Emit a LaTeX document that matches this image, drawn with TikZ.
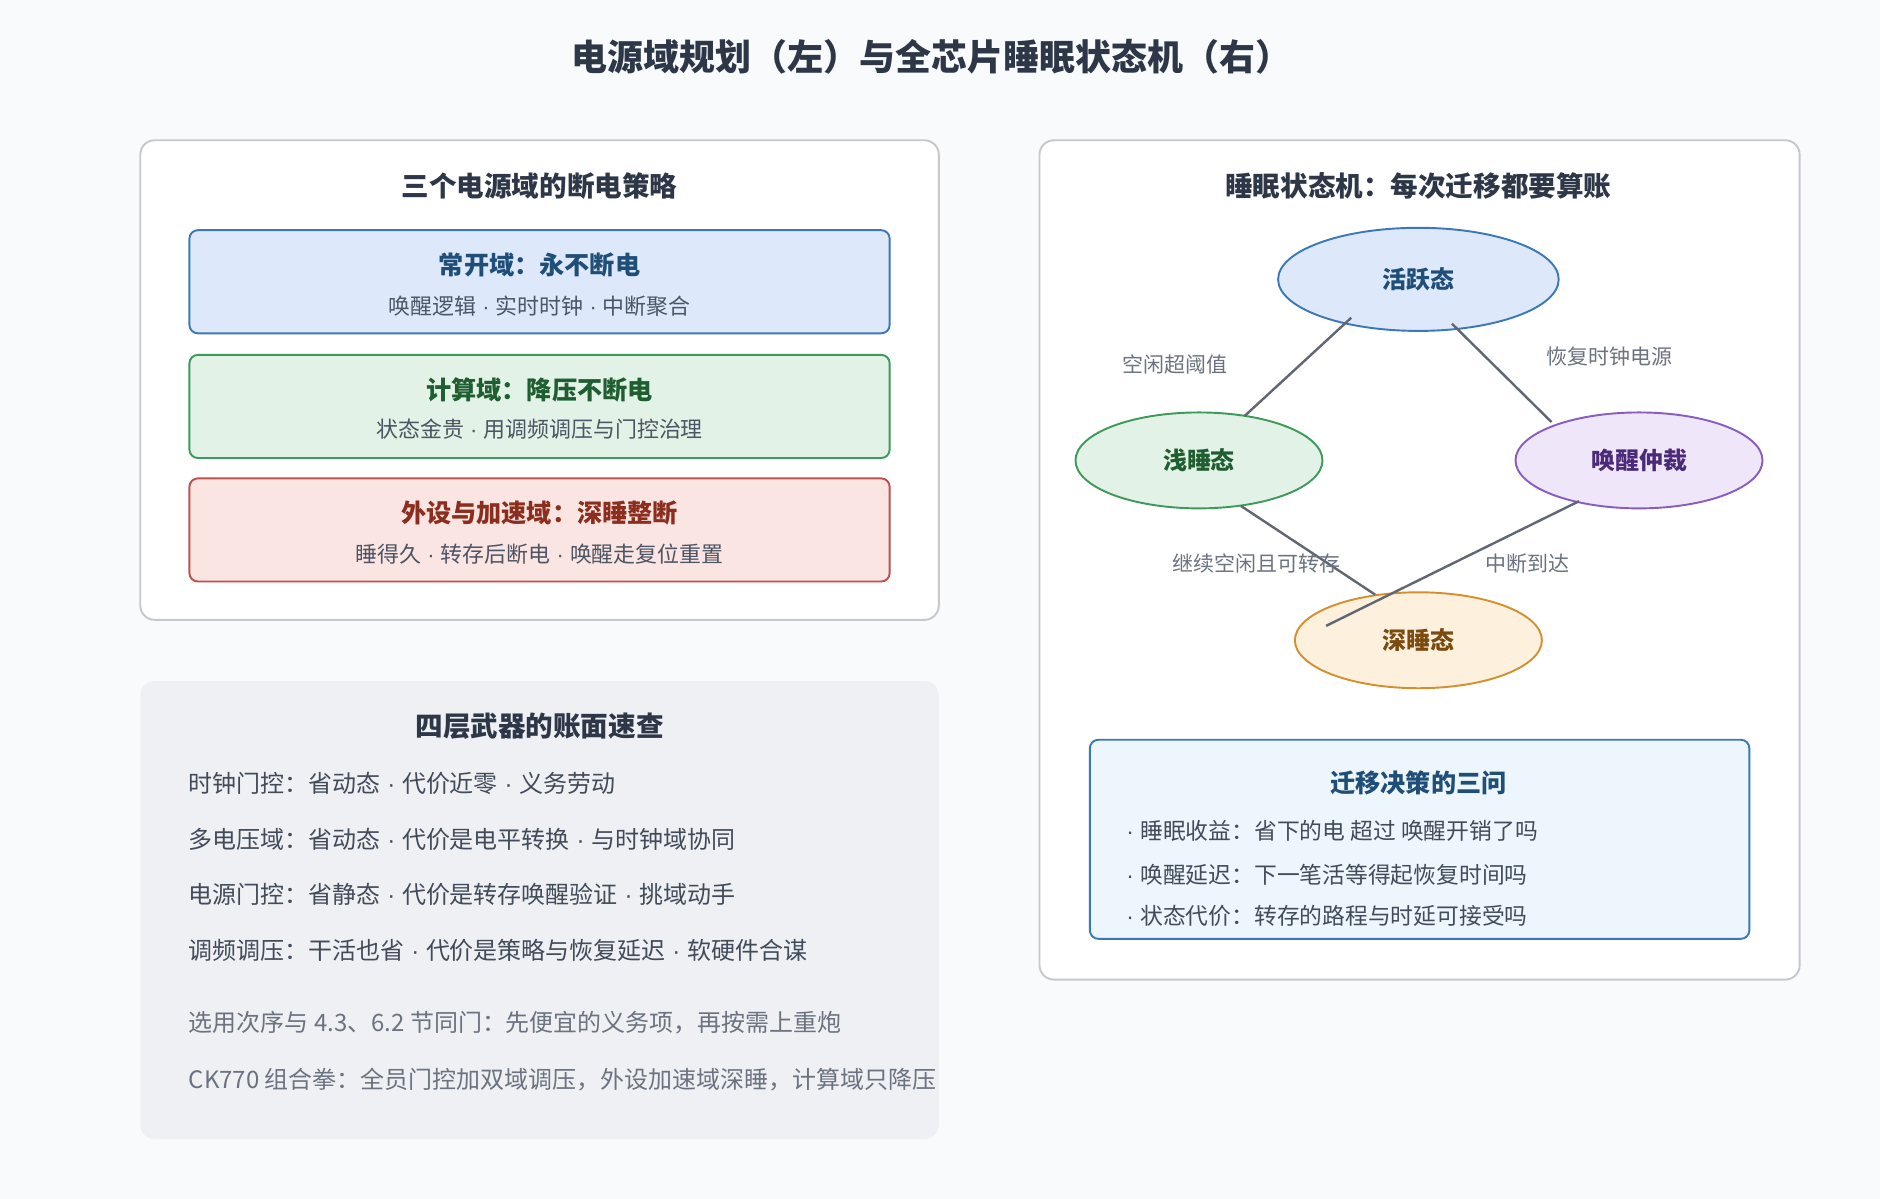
\documentclass[tikz,border=0pt]{standalone}
\usepackage{fontspec}
\setmainfont{Noto Sans CJK SC}
\newfontfamily\dotf{Liberation Sans}
\newcommand{\md}{{\dotf\ ·\ }}
\usetikzlibrary{shapes.geometric}
\definecolor{bg}{HTML}{F8FAFC}
\definecolor{ink}{HTML}{2D3748}
\definecolor{gry}{HTML}{6B7280}
\definecolor{bord}{HTML}{C4C9D0}
\definecolor{lbg}{HTML}{EEF0F3}
\definecolor{dbg}{HTML}{EDF6FD}
\definecolor{bB}{HTML}{3B78B8}\definecolor{bF}{HTML}{DDE9FA}\definecolor{bT}{HTML}{1F4E79}
\definecolor{gB}{HTML}{3E9A5A}\definecolor{gF}{HTML}{E3F2E6}\definecolor{gT}{HTML}{1E5E30}
\definecolor{rB}{HTML}{C0504D}\definecolor{rF}{HTML}{FBE5E3}\definecolor{rT}{HTML}{8B2E1E}
\definecolor{pB}{HTML}{8A5CC2}\definecolor{pF}{HTML}{EFE7F9}\definecolor{pT}{HTML}{4B2A7A}
\definecolor{oB}{HTML}{D4902E}\definecolor{oF}{HTML}{FDF1DE}\definecolor{oT}{HTML}{7A4A0F}
\tikzset{x=1pt,y=-1pt,
 panel/.style={draw=bord,line width=1.6pt,rounded corners=12pt,fill=white},
 box/.style={line width=1.6pt,rounded corners=7pt},
 ttl/.style={font=\fontsize{21}{24}\selectfont\bfseries,text=ink},
 ptl/.style={font=\fontsize{23}{26}\selectfont\bfseries,text=ink},
 sub/.style={font=\fontsize{18.3}{20}\selectfont,text=ink!85},
 body/.style={font=\fontsize{20}{22}\selectfont,text=ink!90,anchor=west},
 dec/.style={font=\fontsize{19}{22}\selectfont,text=ink!90,anchor=west},
 note/.style={font=\fontsize{20}{22}\selectfont,text=gry,anchor=west},
 st/.style={ellipse,line width=1.6pt,font=\fontsize{20}{22}\selectfont\bfseries},
 lab/.style={font=\fontsize{17.5}{20}\selectfont,text=gry},
 edge/.style={draw=gry!90!black,line width=2pt}}
\begin{document}
\begin{tikzpicture}
\fill[bg] (0,0) rectangle (1568,1000);
\node[font=\fontsize{30}{34}\selectfont\bfseries,text=ink] (T) at (777,47) {电源域规划（左）与全芯片睡眠状态机（右）};
% left top
\draw[panel] (117,117) rectangle (783,517);
\node[ptl] (lt) at (450,155) {三个电源域的断电策略};
\draw[box,draw=bB,fill=bF] (158,192) rectangle (742,278);
\node[ttl,text=bT] (a1) at (450,221) {常开域：永不断电};
\node[sub] (a2) at (450,255) {唤醒逻辑\md 实时时钟\md 中断聚合};
\draw[box,draw=gB,fill=gF] (158,296) rectangle (742,382);
\node[ttl,text=gT] (b1) at (450,325) {计算域：降压不断电};
\node[sub] (b2) at (450,358) {状态金贵\md 用调频调压与门控治理};
\draw[box,draw=rB,fill=rF] (158,399) rectangle (742,485);
\node[ttl,text=rT] (c1) at (450,428) {外设与加速域：深睡整断};
\node[sub] (c2) at (450,462) {睡得久\md 转存后断电\md 唤醒走复位重置};
% left bottom
\fill[lbg,rounded corners=12pt] (117,568) rectangle (783,950);
\node[ptl] (lb) at (450,606) {四层武器的账面速查};
\node[body] (l1) at (154,653) {时钟门控：省动态\md 代价近零\md 义务劳动};
\node[body] (l2) at (154,700) {多电压域：省动态\md 代价是电平转换\md 与时钟域协同};
\node[body] (l3) at (154,746) {电源门控：省静态\md 代价是转存唤醒验证\md 挑域动手};
\node[body] (l4) at (154,793) {调频调压：干活也省\md 代价是策略与恢复延迟\md 软硬件合谋};
\node[note] (n1) at (154,853) {选用次序与 4.3、6.2 节同门：先便宜的义务项，再按需上重炮};
\node[note] (n2) at (154,900) {CK770 组合拳：全员门控加双域调压，外设加速域深睡，计算域只降压};
% right
\draw[panel] (867,117) rectangle (1501,817);
\node[ptl] (rt) at (1183,155) {睡眠状态机：每次迁移都要算账};
\node[st,draw=bB,fill=bF,text=bT,minimum width=234pt,minimum height=86pt] (act) at (1183,233) {活跃态};
\node[st,draw=gB,fill=gF,text=gT,minimum width=206pt,minimum height=80pt] (lt2) at (1000,384) {浅睡态};
\node[st,draw=pB,fill=pF,text=pT,minimum width=206pt,minimum height=80pt] (wk) at (1367,384) {唤醒仲裁};
\node[st,draw=oB,fill=oF,text=oT,minimum width=206pt,minimum height=80pt] (dp) at (1183,534) {深睡态};
\coordinate (s1) at (1127,265); \coordinate (t1) at (1038,347);
\coordinate (s2) at (1211,270); \coordinate (t2) at (1294,352);
\coordinate (s3) at (1035,422); \coordinate (t3) at (1147,496);
\coordinate (s4) at (1317,418); \coordinate (t4) at (1106,522);
\draw[edge] (s1) -- (t1);
\draw[edge] (s2) -- (t2);
\draw[edge] (s3) -- (t3);
\draw[edge] (s4) -- (t4);
\node[lab] (q1) at (980,304) {空闲超阈值};
\node[lab] (q2) at (1342,297) {恢复时钟电源};
\node[lab] (q3) at (1048,470) {继续空闲且可转存};
\node[lab] (q4) at (1274,470) {中断到达};
\draw[box,draw=bB,fill=dbg] (909,617) rectangle (1459,783);
\node[ttl,text=bT] (dt) at (1183,653) {迁移决策的三问};
\node[dec] (d1) at (936,693) {\dotf·\ \normalfont 睡眠收益：省下的电 超过 唤醒开销了吗};
\node[dec] (d2) at (936,730) {\dotf·\ \normalfont 唤醒延迟：下一笔活等得起恢复时间吗};
\node[dec] (d3) at (936,764) {\dotf·\ \normalfont 状态代价：转存的路程与时延可接受吗};
\end{tikzpicture}
\end{document}
